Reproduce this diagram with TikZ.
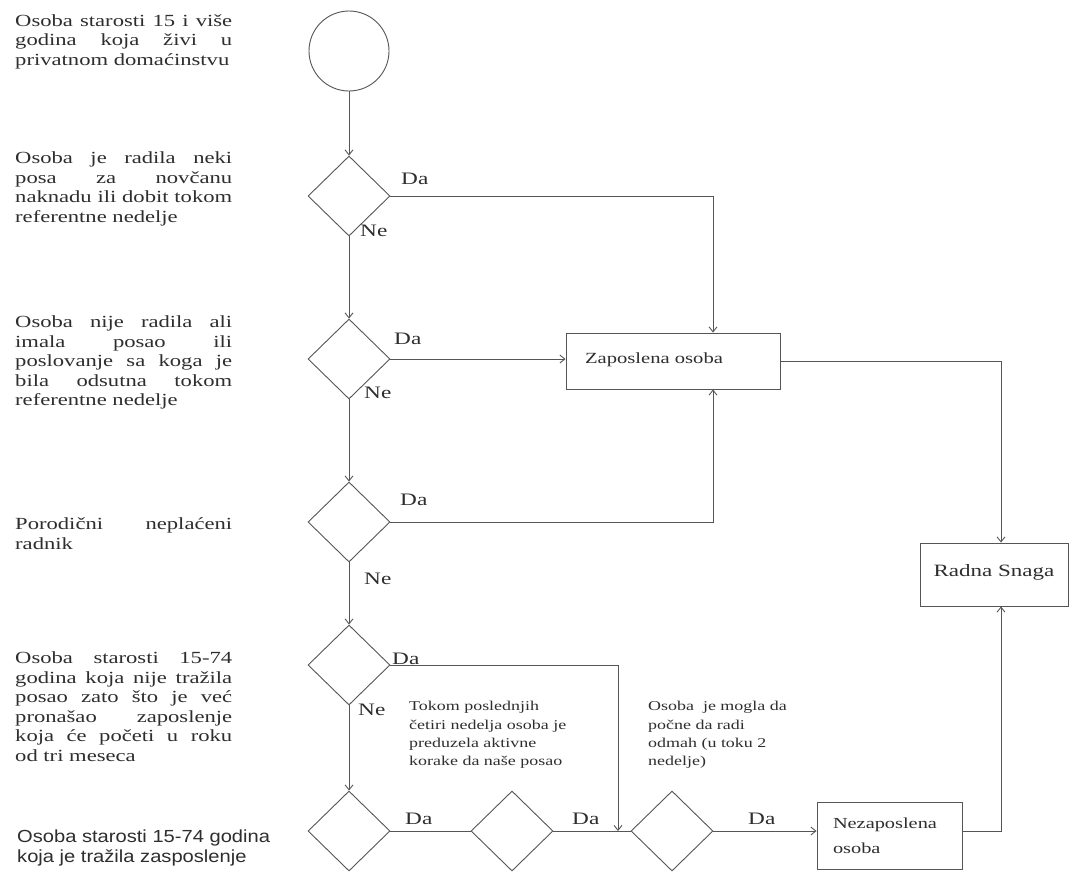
\documentclass[tikz,border=0pt]{standalone}
\usepackage{fontspec}
\setmainfont{Liberation Serif}[FakeStretch=1.33]
\newfontfamily\sansf{Liberation Sans}[FakeStretch=1.15]
\usetikzlibrary{shapes.geometric,arrows.meta}
\definecolor{ln}{HTML}{555555}
\definecolor{tx}{HTML}{2e2e2e}
\newlength\tw \setlength\tw{217pt}
\newcommand\jl[1]{\makebox[\tw][s]{\strut #1}}
\begin{document}
\begin{tikzpicture}[x=1pt,y=-1pt,
  dec/.style={draw=ln,line width=0.9pt,shape=diamond,minimum width=82pt,minimum height=80pt,inner sep=0pt},
  box/.style={draw=ln,line width=0.9pt,text=tx,align=left},
  lbl/.style={text=tx,font=\fontsize{17.5}{20}\selectfont,inner sep=0pt,anchor=base west},
  desc/.style={text=tx,font=\fontsize{17}{19.5}\selectfont,align=left,inner sep=0pt,anchor=north west},
  note/.style={text=tx,font=\fontsize{13.5}{18.2}\selectfont,align=left,inner sep=0pt,anchor=north west},
  arr/.style={draw=ln,line width=0.9pt,-{Straight Barb[length=5pt,width=8pt]}},
  con/.style={draw=ln,line width=0.9pt}]
\useasboundingbox (0,0) rectangle (1070,871);
\fill[white] (0,0) rectangle (1070,871);

% left descriptions
\node[desc] (t1) at (15,12.5) {\jl{Osoba starosti 15 i više}\\\jl{godina koja živi u}\\\strut privatnom domaćinstvu};
\node[desc] (t2) at (15,150) {\jl{Osoba je radila neki}\\\jl{posa za novčanu}\\\jl{naknadu ili dobit tokom}\\\strut referentne nedelje};
\node[desc] (t3) at (15,314) {\jl{Osoba nije radila ali}\\\jl{imala posao ili}\\\jl{poslovanje sa koga je}\\\jl{bila odsutna tokom}\\\strut referentne nedelje};
\node[desc] (t4) at (15,516) {\jl{Porodični neplaćeni}\\\strut radnik};
\node[desc] (t5) at (15,650) {\jl{Osoba starosti 15-74}\\\jl{godina koja nije tražila}\\\jl{posao zato što je već}\\\jl{pronašao zaposlenje}\\\jl{koja će početi u roku}\\\strut od tri meseca};
\node[desc,font=\sansf\fontsize{17.5}{20}\selectfont] (t6) at (17,828) {\strut Osoba starosti 15-74 godina\\\strut koja je tražila zasposlenje};

% flow shapes
\node[draw=ln,line width=0.9pt,circle,minimum size=80pt,inner sep=0pt] (start) at (349,51) {};
\node[dec] (d1) at (349,196) {};
\node[dec] (d2) at (349,359) {};
\node[dec] (d3) at (349,522) {};
\node[dec] (d4) at (349,665) {};
\node[dec] (d5) at (349,831) {};
\node[dec] (d6) at (512,831) {};
\node[dec] (d7) at (672,831) {};

\node[box,minimum width=214pt,minimum height=56pt,text width=176pt,font=\fontsize{15.5}{19}\selectfont] (zap) at (673,361) {\raisebox{5pt}{Zaposlena osoba}};
\node[box,minimum width=148pt,minimum height=63pt,font=\fontsize{17.3}{20}\selectfont] (rs) at (994,574.5) {\raisebox{8pt}{Radna Snaga}};
\node[box,minimum width=145pt,minimum height=67pt,text width=113pt,font=\fontsize{15.3}{25}\selectfont] (nez) at (889.5,836) {Nezaposlena\\osoba};

\coordinate (zx) at (713,0);
\coordinate (rx) at (1001,0);
\coordinate (bx) at (618,0);

% notes
\node[note] (n1) at (409,698) {\strut Tokom poslednjih\\\strut četiri nedelja osoba je\\\strut preduzela aktivne\\\strut korake da naše posao};
\node[note] (n2) at (648,698) {\strut Osoba\ \ je mogla da\\\strut počne da radi\\\strut odmah (u toku 2\\\strut nedelje)};

% connectors
\draw[arr] (start.south) -- (d1.north);
\draw[arr] (d1.south) -- (d2.north);
\draw[arr] (d2.south) -- (d3.north);
\draw[arr] (d3.south) -- (d4.north);
\draw[arr] (d4.south) -- (d5.north);

\draw[arr] (d1.east) -| (zx |- zap.north);
\draw[arr] (d2.east) -- (d2.east -| zap.west);
\draw[arr] (d3.east) -| (zx |- zap.south);
\draw[arr] (d4.east) -| (bx |- d5.east);
\draw[con] (d5.east) -- (d6.west);
\draw[con] (d6.east) -- (d7.west);
\draw[arr] (d7.east) -- (d7.east -| nez.west);
\draw[arr] (zap.east) -| (rx |- rs.north);
\draw[arr] (d7.east -| nez.east) -| (rx |- rs.south);

% labels
\node[lbl] (da1) at (401,184) {Da};
\node[lbl] (ne1) at (360,236) {Ne};
\node[lbl] (da2) at (394,344) {Da};
\node[lbl] (ne2) at (364,398) {Ne};
\node[lbl] (da3) at (400,505) {Da};
\node[lbl] (ne3) at (364,584) {Ne};
\node[lbl] (da4) at (392,664) {Da};
\node[lbl] (ne4) at (358,715) {Ne};
\node[lbl] (da5) at (405,824) {Da};
\node[lbl] (da6) at (572,824) {Da};
\node[lbl] (da7) at (748,824) {Da};
\end{tikzpicture}
\end{document}
